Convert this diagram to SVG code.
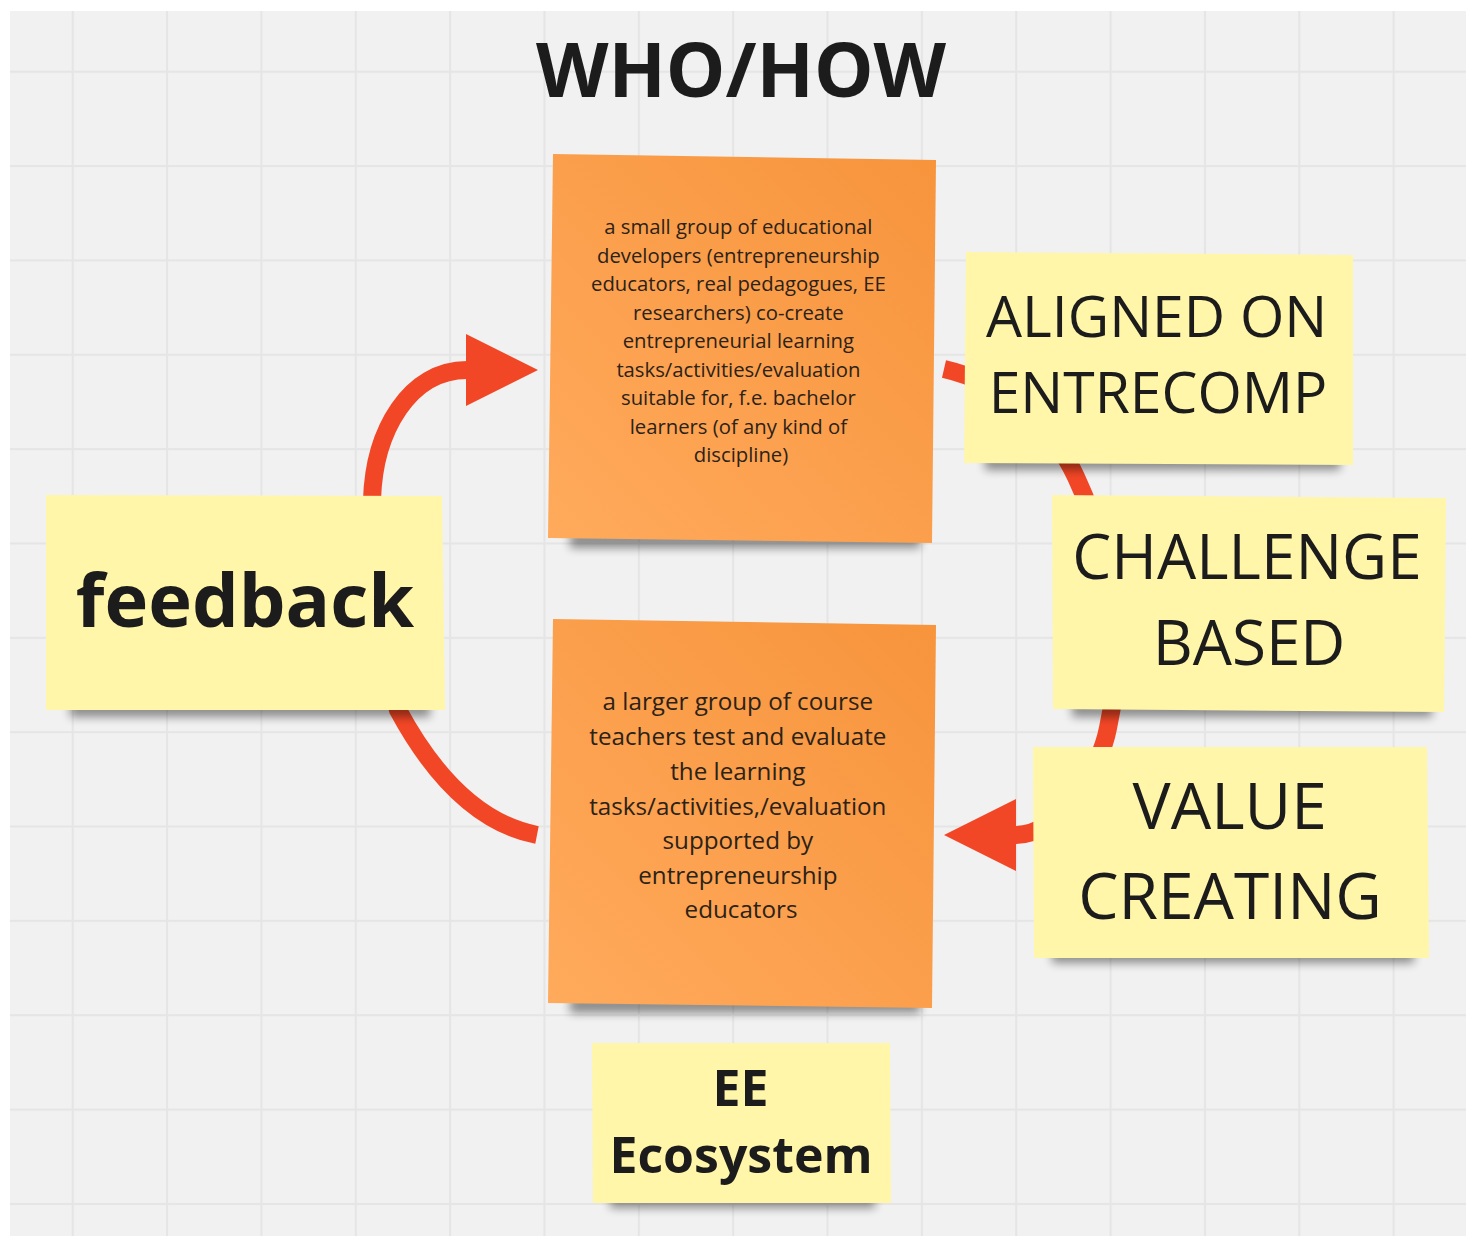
<svg xmlns="http://www.w3.org/2000/svg" width="1471" height="1239" viewBox="0 0 1471 1239">
<defs>
<style>
.bg{fill:#f1f1f1}
.yel{fill:#fff6a9}
.org{fill:url(#og)}
.sh{fill:#000;opacity:.42;filter:url(#blur)}
.con{fill:none;stroke:#f24726;stroke-width:18;stroke-linecap:butt}
.t{font-family:"Open Sans","Liberation Sans",sans-serif;fill:#1c1c1c;text-anchor:middle}
.b{font-weight:700}
.small{font-size:20.3px;fill:#2b2218}
.mid{font-size:24.2px;fill:#2b2218}
</style>
<linearGradient id="og" x1="1" y1="0" x2="0" y2="1">
<stop offset="0" stop-color="#f7943c"/>
<stop offset="1" stop-color="#ffaa5c"/>
</linearGradient>
<filter id="blur" x="-20%" y="-100%" width="140%" height="300%">
<feGaussianBlur stdDeviation="5"/>
</filter>
<pattern id="grid" patternUnits="userSpaceOnUse" x="71.7" y="70.7" width="94.35" height="94.35">
<rect x="0" y="0" width="94.35" height="94.35" fill="#f1f1f1"/>
<rect x="0" y="0" width="2" height="94.35" fill="#e5e5e5"/>
<rect x="0" y="0" width="94.35" height="2" fill="#e5e5e5"/>
</pattern>
<marker id="ah" markerUnits="userSpaceOnUse" markerWidth="72" markerHeight="72" viewBox="0 0 70 70" refX="1" refY="35" orient="auto">
<path d="M0 0 L70 35 L0 70 Z" fill="#f24726"/>
</marker>
</defs>

<rect x="0" y="0" width="1471" height="1239" fill="#ffffff"/>
<rect x="10" y="11" width="1456" height="1225" fill="url(#grid)"/>

<text class="t b" x="741" y="97" font-size="75">WHO/HOW</text>

<g id="connectors">
<path class="con" d="M372 560 L372 500 C374 430 410 370 467 370" marker-end="url(#ah)"/>
<path class="con" d="M393 690 L398 710 C425 760 470 822 537 835"/>
<path class="con" d="M944 369 C1005 383 1053 427 1076 477 C1118 568 1125 650 1108 728 C1100 770 1060 835 1015 835" marker-end="url(#ah)"/>
</g>

<g id="note-top">
<rect class="sh" x="570" y="532" width="350" height="16"/>
<polygon class="org" points="553,154 936,160 932,543 548,538"/>
<text class="t small">
<tspan x="741" y="234">a small group of educational</tspan>
<tspan x="741" y="262.5">developers (entrepreneurship</tspan>
<tspan x="741" y="291">educators, real pedagogues, EE</tspan>
<tspan x="741" y="319.5">researchers) co-create</tspan>
<tspan x="741" y="348">entrepreneurial learning</tspan>
<tspan x="741" y="376.5">tasks/activities/evaluation</tspan>
<tspan x="741" y="405">suitable for, f.e. bachelor</tspan>
<tspan x="741" y="433.5">learners (of any kind of</tspan>
<tspan x="741" y="462">discipline)</tspan>
</text>
</g>

<g id="note-bottom">
<rect class="sh" x="570" y="997" width="350" height="16"/>
<polygon class="org" points="553,619 936,625 932,1008 548,1003"/>
<text class="t mid">
<tspan x="741" y="710">a larger group of course</tspan>
<tspan x="741" y="745">teachers test and evaluate</tspan>
<tspan x="741" y="779.5">the learning</tspan>
<tspan x="741" y="814.5">tasks/activities,/evaluation</tspan>
<tspan x="741" y="849">supported by</tspan>
<tspan x="741" y="883.5">entrepreneurship</tspan>
<tspan x="741" y="918">educators</tspan>
</text>
</g>

<g id="note-feedback">
<rect class="sh" x="70" y="702" width="360" height="15"/>
<polygon class="yel" points="46,495 442,496 445,710 46,710"/>
<text class="t b" x="245" y="627" font-size="74">feedback</text>
</g>

<g id="note-aligned">
<rect class="sh" x="985" y="455" width="355" height="15"/>
<polygon class="yel" points="966,252 1353,255 1353,465 964,463"/>
<text class="t" font-size="57">
<tspan x="1164" y="337">ALIGNED ON</tspan>
<tspan x="1158" y="413">ENTRECOMP</tspan>
</text>
</g>

<g id="note-challenge">
<rect class="sh" x="1072" y="702" width="360" height="15"/>
<polygon class="yel" points="1052,495 1446,498 1444,712 1053,709"/>
<text class="t" font-size="62">
<tspan x="1255" y="579">CHALLENGE</tspan>
<tspan x="1249" y="665">BASED</tspan>
</text>
</g>

<g id="note-value">
<rect class="sh" x="1052" y="948" width="362" height="15"/>
<polygon class="yel" points="1033,747 1427,747 1429,958 1034,958"/>
<text class="t" font-size="64">
<tspan x="1238" y="829">VALUE</tspan>
<tspan x="1230" y="919">CREATING</tspan>
</text>
</g>

<g id="note-ee">
<rect class="sh" x="610" y="1194" width="265" height="14"/>
<polygon class="yel" points="592,1043 890,1043 891,1203 593,1203"/>
<text class="t b" font-size="50">
<tspan x="747" y="1106">EE</tspan>
<tspan x="741" y="1173">Ecosystem</tspan>
</text>
</g>
</svg>
